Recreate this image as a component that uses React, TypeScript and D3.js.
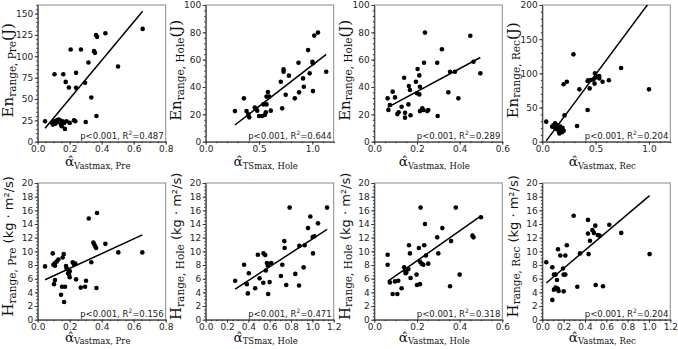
import { useEffect, useRef } from "react"
import * as d3 from "d3"

// Energy range vs vastus peak, pre-hole
const enPreAlpha = [0.046, 0.09, 0.095, 0.1, 0.105, 0.11, 0.12, 0.125, 0.13, 0.14, 0.145, 0.15, 0.155, 0.16, 0.165, 0.17, 0.175, 0.18, 0.195, 0.2, 0.206, 0.227, 0.235, 0.24, 0.24, 0.27, 0.296, 0.3, 0.317, 0.335, 0.352, 0.358, 0.365, 0.367, 0.371, 0.423, 0.502, 0.656]
const enPreValue = [24, 22, 20, 24, 79, 21, 25, 23, 26, 25, 20, 18, 24, 79, 22, 15, 70, 24, 63.5, 22, 108, 25, 24, 63, 80.6, 108, 69, 23, 92.7, 51.8, 106, 104, 124.7, 30, 122.7, 127, 88, 132]

// Energy range vs trunk peak, hole
const enHoleTsAlpha = [0.274, 0.358, 0.383, 0.4, 0.408, 0.46, 0.47, 0.483, 0.5, 0.53, 0.54, 0.555, 0.564, 0.57, 0.57, 0.583, 0.595, 0.61, 0.704, 0.717, 0.73, 0.73, 0.75, 0.78, 0.835, 0.87, 0.875, 0.913, 0.92, 0.96, 0.975, 1.0, 1.006, 1.006, 1.018, 1.053, 1.13]
const enHoleTsValue = [22.4, 31.7, 22.4, 20, 17.8, 25, 24, 22.7, 18.8, 18.8, 27.3, 19.5, 21.5, 27.3, 33, 36.3, 33, 22.7, 43.9, 24.4, 52.9, 51.2, 34.4, 48.3, 31.7, 57.8, 36.1, 46.3, 40.2, 67, 50, 58.5, 57.3, 37, 77.6, 79.8, 51.2]

// Energy range vs vastus peak, hole
const enHoleVaAlpha = [0.0625, 0.066, 0.073, 0.086, 0.097, 0.108, 0.114, 0.128, 0.14, 0.144, 0.144, 0.16, 0.162, 0.167, 0.17, 0.195, 0.2, 0.203, 0.211, 0.211, 0.214, 0.214, 0.225, 0.23, 0.233, 0.2375, 0.248, 0.253, 0.295, 0.297, 0.317, 0.347, 0.355, 0.378, 0.394, 0.45, 0.465, 0.497]
const enHoleVaValue = [31.7, 23.2, 26.8, 36.6, 32.4, 20.2, 21.5, 25.6, 46.8, 21.2, 17.6, 27.3, 40.7, 37.8, 19.3, 43.9, 35.4, 53.2, 48.5, 34.6, 40.2, 22.4, 24.4, 23.2, 57.8, 79.8, 22.4, 23.2, 57.8, 18.8, 67.6, 36.1, 51.2, 51.2, 31.7, 77.5, 58.5, 50]

// Energy range vs vastus peak, recovery
const enRecAlpha = [0.037, 0.093, 0.105, 0.115, 0.12, 0.125, 0.13, 0.14, 0.145, 0.15, 0.155, 0.16, 0.165, 0.17, 0.18, 0.185, 0.19, 0.2, 0.208, 0.2, 0.23, 0.292, 0.326, 0.348, 0.425, 0.425, 0.43, 0.444, 0.456, 0.48, 0.49, 0.5, 0.494, 0.52, 0.534, 0.534, 0.565, 0.624, 0.739, 1.0]
const enRecValue = [29.3, 22, 24, 21, 27, 19, 23, 24, 21, 18, 15, 12, 17, 22, 18, 14, 20, 16, 38.5, 84, 87.8, 127.8, 23, 76.6, 46.3, 88.8, 90, 78, 90.2, 91, 85, 94, 100, 95, 92.7, 96, 87.8, 90, 107.8, 76.6]

// Angular momentum range vs vastus peak, pre-hole
const hPreAlpha = [0.046, 0.094, 0.098, 0.102, 0.108, 0.108, 0.108, 0.119, 0.129, 0.146, 0.152, 0.156, 0.1625, 0.165, 0.171, 0.177, 0.181, 0.185, 0.19, 0.196, 0.2, 0.2, 0.219, 0.227, 0.235, 0.24, 0.269, 0.296, 0.302, 0.319, 0.335, 0.348, 0.354, 0.36, 0.365, 0.367, 0.371, 0.423, 0.504, 0.654]
const hPreValue = [7.8, 9.7, 8.05, 5.2, 7.9, 8.3, 5.8, 8.5, 8.8, 3.66, 4.83, 9.1, 9.6, 2.6, 4.83, 7.85, 7.5, 7.4, 6.8, 6.6, 6.2, 7.1, 8.4, 8.1, 8.2, 5.9, 4.7, 4.83, 5.7, 14.8, 8.4, 11.3, 11, 10.7, 10.5, 4.63, 15.6, 11.1, 9.85, 9.85]

// Angular momentum range vs trunk peak, hole
const hHoleTsAlpha = [0.276, 0.36, 0.386, 0.395, 0.404, 0.464, 0.489, 0.505, 0.54, 0.542, 0.558, 0.564, 0.574, 0.583, 0.586, 0.599, 0.614, 0.705, 0.718, 0.737, 0.74, 0.755, 0.787, 0.84, 0.875, 0.878, 0.918, 0.928, 0.959, 0.981, 1.003, 1.019, 1.006, 1.053, 1.138]
const hHoleTsValue = [5.7, 8.05, 5.2, 3.85, 6.8, 4.6, 9.5, 6.05, 5.4, 9.7, 9.46, 7.2, 8.3, 7.9, 3.76, 5.5, 8.3, 6.4, 8.05, 11.5, 10.5, 5.07, 16.4, 6.7, 5, 10.8, 7.66, 10.9, 13.4, 15.1, 12.1, 12.2, 9.7, 14.1, 16.4]

// Angular momentum range vs vastus peak, hole
const hHoleVaAlpha = [0.0625, 0.0625, 0.073, 0.086, 0.097, 0.108, 0.1125, 0.128, 0.14, 0.144, 0.147, 0.15, 0.16, 0.1625, 0.167, 0.17, 0.198, 0.2, 0.209, 0.214, 0.214, 0.217, 0.222, 0.23, 0.234, 0.2375, 0.242, 0.253, 0.295, 0.3, 0.319, 0.355, 0.36, 0.382, 0.4, 0.46, 0.465, 0.5]
const hHoleVaValue = [9.5, 8.05, 5.46, 3.76, 5.6, 3.76, 5.7, 4.6, 7.66, 7.17, 6.8, 6.9, 7.4, 10.9, 9.7, 6.1, 6.6, 5.07, 10.5, 5.2, 8.5, 16.4, 8.2, 8.05, 10.9, 14, 9.4, 8.2, 12.05, 9.7, 13.4, 4.9, 11.5, 16.4, 6.6, 12.3, 12.05, 15]

// Angular momentum range vs vastus peak, recovery
const hRecAlpha = [0.0375, 0.094, 0.094, 0.109, 0.125, 0.109, 0.125, 0.1375, 0.147, 0.1375, 0.147, 0.153, 0.169, 0.194, 0.2, 0.216, 0.2, 0.216, 0.23, 0.294, 0.328, 0.353, 0.428, 0.428, 0.434, 0.447, 0.47, 0.484, 0.497, 0.5, 0.52, 0.5375, 0.569, 0.628, 0.74, 1.006]
const hRecValue = [8.4, 7.66, 2.9, 6.6, 6.6, 4.4, 4.7, 4.6, 4.5, 5.8, 10.3, 4.2, 9.4, 7.5, 6.6, 6.6, 4.15, 9.4, 10.9, 15.2, 4.83, 9.7, 14.6, 12.6, 9.6, 11.56, 13.1, 12.7, 13.76, 5.07, 12.4, 12.3, 4.9, 13.9, 12.7, 9.6]

// Regression lines and fit statistics, one per panel
const fitSlopes = [224.6, 60.4, 84, 209.8, 10.8, 10.14, 21.9, 13.19]
const fitIntercepts = [5.3, -4.35, 19.85, -6.5, 5.35, 1.66, 4.23, 4.88]
const r2Values = ["0.487", "0.644", "0.289", "0.204", "0.156", "0.471", "0.318", "0.204"]

const xMaxes = [0.8, 1.2, 0.6, 1.2, 0.8, 1.2, 0.6, 1.2]
const xSteps = [0.2, 0.5, 0.2, 0.5, 0.2, 0.2, 0.2, 0.2]
const yMaxes = [160, 100, 100, 200, 20, 20, 20, 20]
const ySteps = [25, 20, 20, 50, 2, 2, 2, 2]

const phaseNames = ["Pre", "Hole", "Hole", "Rec", "Pre", "Hole", "Hole", "Rec"]
const muscleNames = ["Vastmax", "TSmax", "Vastmax", "Vastmax", "Vastmax", "TSmax", "Vastmax", "Vastmax"]

const minorStep = (step: number) => (step === 0.2 ? 0.05 : step === 0.5 ? 0.1 : step === 2 ? 0.5 : step / 5)

export default function App() {
  const svgRef = useRef<SVGSVGElement>(null)

  useEffect(() => {
    if (!svgRef.current) return
    const svg = d3.select(svgRef.current)
    svg.selectAll("*").remove()

    const series = [
      [enPreAlpha, enPreValue],
      [enHoleTsAlpha, enHoleTsValue],
      [enHoleVaAlpha, enHoleVaValue],
      [enRecAlpha, enRecValue],
      [hPreAlpha, hPreValue],
      [hHoleTsAlpha, hHoleTsValue],
      [hHoleVaAlpha, hHoleVaValue],
      [hRecAlpha, hRecValue],
    ]

    const colLeft = [37.7, 205.7, 374.3, 542.3]
    const rowTop = [5, 183]
    const plotW = 128
    const plotH = 136.7
    const serif = "DejaVu Serif"
    const sans = "DejaVu Sans"

    series.forEach(([xs, ys], i) => {
      const col = i % 4
      const row = Math.floor(i / 4)
      const left = colLeft[col]
      const top = rowTop[row]
      const g = svg.append("g")

      const x = d3.scaleLinear().domain([0, xMaxes[i]]).range([left, left + plotW])
      const y = d3.scaleLinear().domain([0, yMaxes[i]]).range([top + plotH, top])

      const clipId = `clip-${i}`
      g.append("clipPath")
        .attr("id", clipId)
        .append("rect")
        .attr("x", left)
        .attr("y", top)
        .attr("width", plotW)
        .attr("height", plotH)

      // frame (top/right in grey)
      g.append("rect")
        .attr("x", left)
        .attr("y", top)
        .attr("width", plotW)
        .attr("height", plotH)
        .attr("fill", "none")
        .attr("stroke", "#8a8a8a")
        .attr("stroke-width", 1)

      const xTicks = d3.range(0, xMaxes[i] + 1e-9, xSteps[i])
      const yTicks = d3.range(0, yMaxes[i] + 1e-9, ySteps[i])
      const xMinor = d3.range(0, xMaxes[i] + 1e-9, minorStep(xSteps[i]))
      const yMinor = d3.range(0, yMaxes[i] + 1e-9, minorStep(ySteps[i]))

      // minor ticks
      g.append("g")
        .attr("transform", `translate(0,${top + plotH})`)
        .call(d3.axisBottom(x).tickValues(xMinor).tickSize(1.5).tickSizeOuter(0).tickFormat(() => ""))
        .call((a) => a.select(".domain").remove())
      g.append("g")
        .attr("transform", `translate(${left},0)`)
        .call(d3.axisLeft(y).tickValues(yMinor).tickSize(1.5).tickSizeOuter(0).tickFormat(() => ""))
        .call((a) => a.select(".domain").remove())

      const xAxis = g
        .append("g")
        .attr("transform", `translate(0,${top + plotH})`)
        .call(d3.axisBottom(x).tickValues(xTicks).tickSize(3).tickSizeOuter(0).tickPadding(1).tickFormat(d3.format(".1f")))
      const yAxis = g
        .append("g")
        .attr("transform", `translate(${left},0)`)
        .call(d3.axisLeft(y).tickValues(yTicks).tickSize(3).tickSizeOuter(0).tickPadding(1.5).tickFormat(d3.format("d")))

      for (const a of [xAxis, yAxis]) {
        a.attr("font-family", sans).attr("font-size", 9)
        a.selectAll("text").attr("fill", "#262626")
        a.select(".domain").attr("stroke", "#333")
      }
      g.selectAll(".tick line").attr("stroke", "#333")

      // regression line
      const xr = d3.extent(xs) as [number, number]
      const fit = xr.map((v) => [v, fitSlopes[i] * v + fitIntercepts[i]] as [number, number])
      g.append("path")
        .attr("clip-path", `url(#${clipId})`)
        .attr("d", d3.line().x((d) => x(d[0])).y((d) => y(d[1]))(fit))
        .attr("fill", "none")
        .attr("stroke", "#000")
        .attr("stroke-width", 1.5)

      // subjects
      g.append("g")
        .attr("clip-path", `url(#${clipId})`)
        .selectAll("circle")
        .data(d3.zip(xs, ys))
        .join("circle")
        .attr("cx", (d) => x(d[0]))
        .attr("cy", (d) => y(d[1]))
        .attr("r", 2.3)
        .attr("fill", "#000")

      // fit statistics
      const stat = g
        .append("text")
        .attr("x", left + plotW - 2)
        .attr("y", top + plotH - 3)
        .attr("text-anchor", "end")
        .attr("font-family", sans)
        .attr("font-size", 8.5)
        .attr("fill", "#222")
      stat.append("tspan").text("p<0.001, R")
      stat.append("tspan").attr("font-size", 6).attr("dy", -3.5).text("2")
      stat.append("tspan").attr("dy", 3.5).text(`=${r2Values[i]}`)

      // x label: alpha hat with subscript
      const xl = g
        .append("text")
        .attr("x", left + plotW / 2 - 4)
        .attr("y", top + plotH + (row === 0 ? 24.5 : 22))
        .attr("text-anchor", "middle")
        .attr("font-family", serif)
        .attr("fill", "#111")
      xl.append("tspan").attr("font-size", 13.5).text("\u03b1\u0302")
      xl.append("tspan").attr("font-size", 8.5).attr("dy", 2.5).text(`${muscleNames[i]}, ${phaseNames[i]}`)

      // y label
      const yl = g
        .append("text")
        .attr("transform", `translate(${left - 24.5},${top + plotH / 2 - (row === 0 ? 3 : 5)}) rotate(-90)`)
        .attr("text-anchor", "middle")
        .attr("font-family", serif)
        .attr("fill", "#111")
      if (row === 0) {
        yl.append("tspan").attr("font-size", 15).text("En")
        yl.append("tspan").attr("font-size", 10.5).attr("dy", 2.5).text(`range, ${phaseNames[i]}`)
        yl.append("tspan").attr("font-size", 15).attr("dy", -2.5).text("(J)")
      } else {
        yl.append("tspan").attr("font-size", 15).text("H")
        yl.append("tspan").attr("font-size", 10.5).attr("dy", 2.5).text(`range, ${phaseNames[i]}`)
        yl.append("tspan").attr("font-size", 13).attr("dy", -2.5).attr("font-family", sans).text(" (kg \u00b7 m\u00b2/s)")
      }
    })
  }, [])

  return (
    <svg
      ref={svgRef}
      width={678}
      height={349}
      style={{ position: "absolute", left: 0, top: 0, background: "#fff" }}
    />
  )
}
